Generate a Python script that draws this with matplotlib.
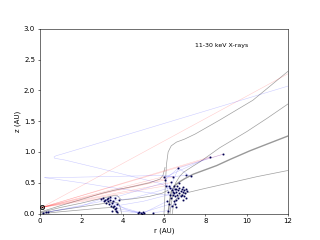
# X-ray photon paths in the disk
import numpy as np
import matplotlib
matplotlib.use("Agg")
import matplotlib.pyplot as plt

# source position
src_r = 0.08
src_z = 0.1

# gray contour lines
gray_lines = [
    ([6.0, 6.03, 6.07, 6.12, 6.2, 6.35, 6.6, 7.0, 7.5, 8.7, 10.3, 12.0],
     [0.0, 0.2, 0.5, 0.8, 1.0, 1.1, 1.16, 1.21, 1.29, 1.52, 1.84, 2.31]),
    ([6.29, 6.35, 6.45, 6.55, 6.75, 6.94, 7.4, 7.74, 8.7, 10.0, 11.0, 12.0],
     [0.0, 0.15, 0.35, 0.49, 0.6, 0.67, 0.77, 0.84, 1.07, 1.33, 1.55, 1.78]),
    ([6.4, 6.45, 6.55, 6.7, 7.0, 8.0, 9.2, 10.5, 12.0],
     [0.0, 0.12, 0.22, 0.28, 0.33, 0.41, 0.5, 0.6, 0.7]),
    ([0.05, 1.0, 2.0, 3.0, 3.6, 4.5, 5.3, 5.8, 5.95, 6.05],
     [0.03, 0.13, 0.23, 0.33, 0.38, 0.44, 0.5, 0.56, 0.62, 0.75]),
    ([0.05, 1.0, 2.0, 3.0, 3.55, 3.75, 3.85, 3.95, 4.5, 5.3, 5.9, 6.2],
     [0.02, 0.1, 0.17, 0.25, 0.29, 0.29, 0.25, 0.22, 0.24, 0.28, 0.33, 0.38]),
    ([0.05, 1.0, 2.0, 3.0, 3.6, 3.8, 3.9, 3.95],
     [0.01, 0.06, 0.11, 0.16, 0.19, 0.17, 0.08, 0.0]),
    ([0.1, 1.0, 2.0, 3.0, 3.5, 3.7, 3.8],
     [0.0, 0.03, 0.06, 0.09, 0.1, 0.06, 0.0]),
]
# thick line
thick_r = [6.2, 6.25, 6.35, 6.5, 6.77, 7.02, 7.42, 8.55, 9.2, 10.16, 11.0, 12.0]
thick_z = [0.0, 0.15, 0.35, 0.45, 0.52, 0.57, 0.64, 0.78, 0.88, 1.02, 1.13, 1.26]

# red paths: source -> first interaction
red_r = [12.0, 8.87, 8.23, 6.0, 6.1, 6.05, 6.45, 3.05, 6.3]
red_z = [2.27, 0.965, 0.92, 0.6, 0.55, 0.45, 0.6, 0.25, 0.5]

# blue paths after scattering
blue_paths = [
    ([12.0, 3.3, 1.0, 0.78, 0.68, 0.7, 0.85, 1.2, 3.3, 5.7, 6.1],
     [2.07, 1.19, 0.96, 0.94, 0.92, 0.9, 0.89, 0.87, 0.70, 0.5, 0.45]),
    ([0.23, 2.2, 3.3, 4.6, 5.9, 6.3], [0.585, 0.49, 0.43, 0.37, 0.31, 0.3]),
    ([0.23, 0.3, 3.0, 5.98, 6.45], [0.585, 0.58, 0.6, 0.62, 0.6]),
    ([8.87, 6.7, 6.3, 6.6], [0.965, 0.74, 0.42, 0.35]),
    ([8.23, 6.1, 6.2], [0.92, 0.6, 0.35]),
    ([0.15, 2.0, 3.05, 3.3], [0.01, 0.12, 0.25, 0.2]),
    ([0.3, 3.0, 6.0, 6.4], [0.02, 0.2, 0.5, 0.38]),
    ([3.7, 4.8, 5.0, 6.25], [0.05, 0.01, 0.02, 0.15]),
    ([3.5, 4.3, 4.95, 6.15], [0.17, 0.05, 0.0, 0.2]),
    ([3.3, 4.5, 6.3, 6.7], [0.2, 0.25, 0.42, 0.38]),
    ([3.6, 5.0, 6.5], [0.12, 0.2, 0.33]),
    ([5.45, 6.2, 6.8], [0.01, 0.05, 0.28]),
    ([6.0, 6.45, 7.0, 7.33], [0.6, 0.6, 0.62, 0.61]),
    ([6.05, 6.7, 7.2], [0.55, 0.74, 0.62]),
    ([3.4, 4.0, 4.8], [0.22, 0.1, 0.02]),
    ([3.15, 3.8, 4.9], [0.22, 0.08, 0.01]),
]

# interaction points
pts_r = [0.15, 0.3, 0.4,
         2.95, 3.05, 3.1, 3.15, 3.2, 3.25, 3.3, 3.35, 3.4, 3.45, 3.5, 3.55,
         3.6, 3.62, 3.65, 3.7, 3.72, 3.75, 3.3, 3.4, 3.55, 3.5, 3.68, 3.8,
         4.75, 4.8, 4.9, 4.95, 5.0, 5.05, 5.45,
         6.0, 6.05, 6.1, 6.15, 6.2, 6.25, 6.3, 6.3, 6.35, 6.4,
         6.45, 6.45, 6.5, 6.5, 6.55, 6.55, 6.6, 6.6, 6.65, 6.65,
         6.7, 6.7, 6.7, 6.75, 6.75, 6.8, 6.8, 6.85, 6.85, 6.9,
         6.9, 6.95, 7.0, 7.07, 7.05, 7.05, 6.4, 6.55, 6.35, 6.25,
         6.6, 6.9, 6.75, 7.33, 6.2, 6.5, 6.95, 6.6, 6.45, 7.1,
         8.23, 8.87]
pts_z = [0.01, 0.02, 0.03,
         0.23, 0.25, 0.2, 0.22, 0.18, 0.24, 0.2, 0.15, 0.22, 0.13, 0.17, 0.1,
         0.12, 0.25, 0.07, 0.05, 0.15, 0.03, 0.26, 0.27, 0.2, 0.05, 0.09, 0.22,
         0.01, 0.02, 0.01, 0.0, 0.02, 0.01, 0.01,
         0.6, 0.55, 0.45, 0.2, 0.35, 0.15, 0.3, 0.42, 0.25, 0.38,
         0.3, 0.6, 0.2, 0.33, 0.28, 0.4, 0.22, 0.35, 0.3, 0.45,
         0.25, 0.38, 0.74, 0.33, 0.42, 0.28, 0.36, 0.4, 0.3, 0.35,
         0.43, 0.38, 0.33, 0.62, 0.25, 0.4, 0.12, 0.16, 0.52, 0.45,
         0.1, 0.22, 0.5, 0.61, 0.05, 0.44, 0.28, 0.4, 0.35, 0.36,
         0.92, 0.965]

fig, ax = plt.subplots(figsize=(6.4, 4.8), dpi=50)

for r, z in gray_lines:
    ax.plot(r, z, color="gray", lw=1.0, alpha=0.75)
ax.plot(thick_r, thick_z, color="gray", lw=2.0, alpha=0.8)

for r, z in zip(red_r, red_z):
    ax.plot([src_r, r], [src_z, z], color="red", lw=0.8, alpha=0.2)

for r, z in blue_paths:
    ax.plot(r, z, color="blue", lw=0.8, alpha=0.2)

ax.plot(pts_r, pts_z, "s", color="#000050", ms=1.6)

# source
ax.plot(src_r, src_z, "o", mfc="none", mec="black", ms=6, mew=1.2, clip_on=False)
ax.plot(src_r, src_z, "x", color="black", ms=3, mew=1, clip_on=False)

ax.text(7.5, 2.7, "11-30 keV X-rays", fontsize=9)

ax.set_xlim(0, 12)
ax.set_ylim(0, 3)
ax.set_xlabel("r (AU)")
ax.set_ylabel("z (AU)")

plt.savefig("out.png")
